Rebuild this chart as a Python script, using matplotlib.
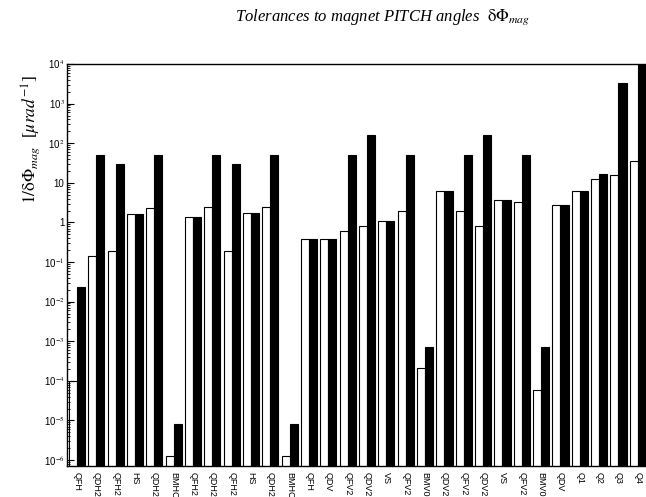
import numpy as np
import matplotlib.pyplot as plt
from matplotlib.ticker import FixedLocator, LogLocator, NullFormatter

plt.rcParams['mathtext.fontset'] = 'stix'

# magnet names along the line
imanes = ['QFH', 'QDH2', 'QFH2', 'HS', 'QDH2', 'BMHC', 'QFH2', 'QDH2', 'QFH2', 'HS',
          'QDH2', 'BMHC', 'QFH', 'QDV', 'QFV2', 'QDV2', 'VS', 'QFV2', 'BMV0', 'QDV2',
          'QFV2', 'QDV2', 'VS', 'QFV2', 'BMV0', 'QDV', 'Q1', 'Q2', 'Q3', 'Q4']

# 1/tolerance values (white and black bars)
blancas = [1.0e-4, 0.14, 0.19, 1.6, 2.3, 1.3e-6, 1.4, 2.4, 0.19, 1.7,
           2.4, 1.3e-6, 0.38, 0.38, 0.62, 0.83, 1.1, 1.9, 2.1e-4, 6.3,
           2.0, 0.83, 3.7, 3.2, 6e-5, 2.7, 6.3, 12.5, 16, 35]
negras = [0.024, 50, 30, 1.6, 50, 8e-6, 1.4, 50, 30, 1.7,
          50, 8e-6, 0.38, 0.38, 50, 160, 1.1, 50, 7e-4, 6.3,
          50, 160, 3.7, 50, 7e-4, 2.7, 6.3, 17, 3300, 1e4]

ymin, ymax = 10 ** -6.15, 1e4
ancho = 0.42

fig = plt.figure(figsize=(6.46, 4.97), dpi=100)
ax = fig.add_axes([0.1042, 0.0624, 0.898, 0.8088])

x = np.arange(len(imanes))
ax.bar(x - ancho / 2, np.array(blancas) - 1e-8, width=ancho, bottom=1e-8, color='white',
       edgecolor='black', linewidth=0.8)
ax.bar(x + ancho / 2, np.array(negras) - 1e-8, width=ancho, bottom=1e-8, color='black',
       edgecolor='black', linewidth=0.8)

ax.set_yscale('log')
ax.set_ylim(ymin, ymax)
ax.set_xlim(-0.5, len(imanes) - 0.5)

# y ticks: decades from 1e-6 to 1e4, pointing inward
decadas = list(range(-6, 5))
etiquetas = []
for d in decadas:
    if d == 0:
        etiquetas.append('1')
    elif d == 1:
        etiquetas.append('10')
    else:
        etiquetas.append('10$^{%d}$' % d)
ax.yaxis.set_major_locator(FixedLocator([10.0 ** d for d in decadas]))
ax.set_yticklabels(etiquetas, fontsize=7, family='Liberation Sans')
ax.yaxis.set_minor_locator(LogLocator(base=10, subs=np.arange(2, 10), numticks=30))
ax.yaxis.set_minor_formatter(NullFormatter())
ax.tick_params(axis='y', which='major', direction='in', length=5, width=0.8, pad=2)
ax.tick_params(axis='y', which='minor', direction='in', length=2.5, width=0.6)

ax.set_xticks(x)
ax.set_xticklabels(imanes, rotation=-90, fontsize=6.5, family='Liberation Sans')
ax.tick_params(axis='x', length=0, pad=4)

for lado in ['left', 'bottom', 'top']:
    ax.spines[lado].set_linewidth(1.0)
ax.spines['right'].set_visible(False)

fig.text(0.592, 0.965, r'Tolerances to magnet PITCH angles  $\mathrm{\delta\Phi}_{mag}$',
         ha='center', va='center', fontsize=12, family='Liberation Serif', style='italic')
fig.text(0.048, 0.72, r'$1/\mathrm{\delta\Phi}_{mag}$  [$\mu rad^{-1}$]',
         ha='center', va='center', rotation=90, fontsize=12.5, family='Liberation Serif')

plt.savefig('out.png', dpi=100)
